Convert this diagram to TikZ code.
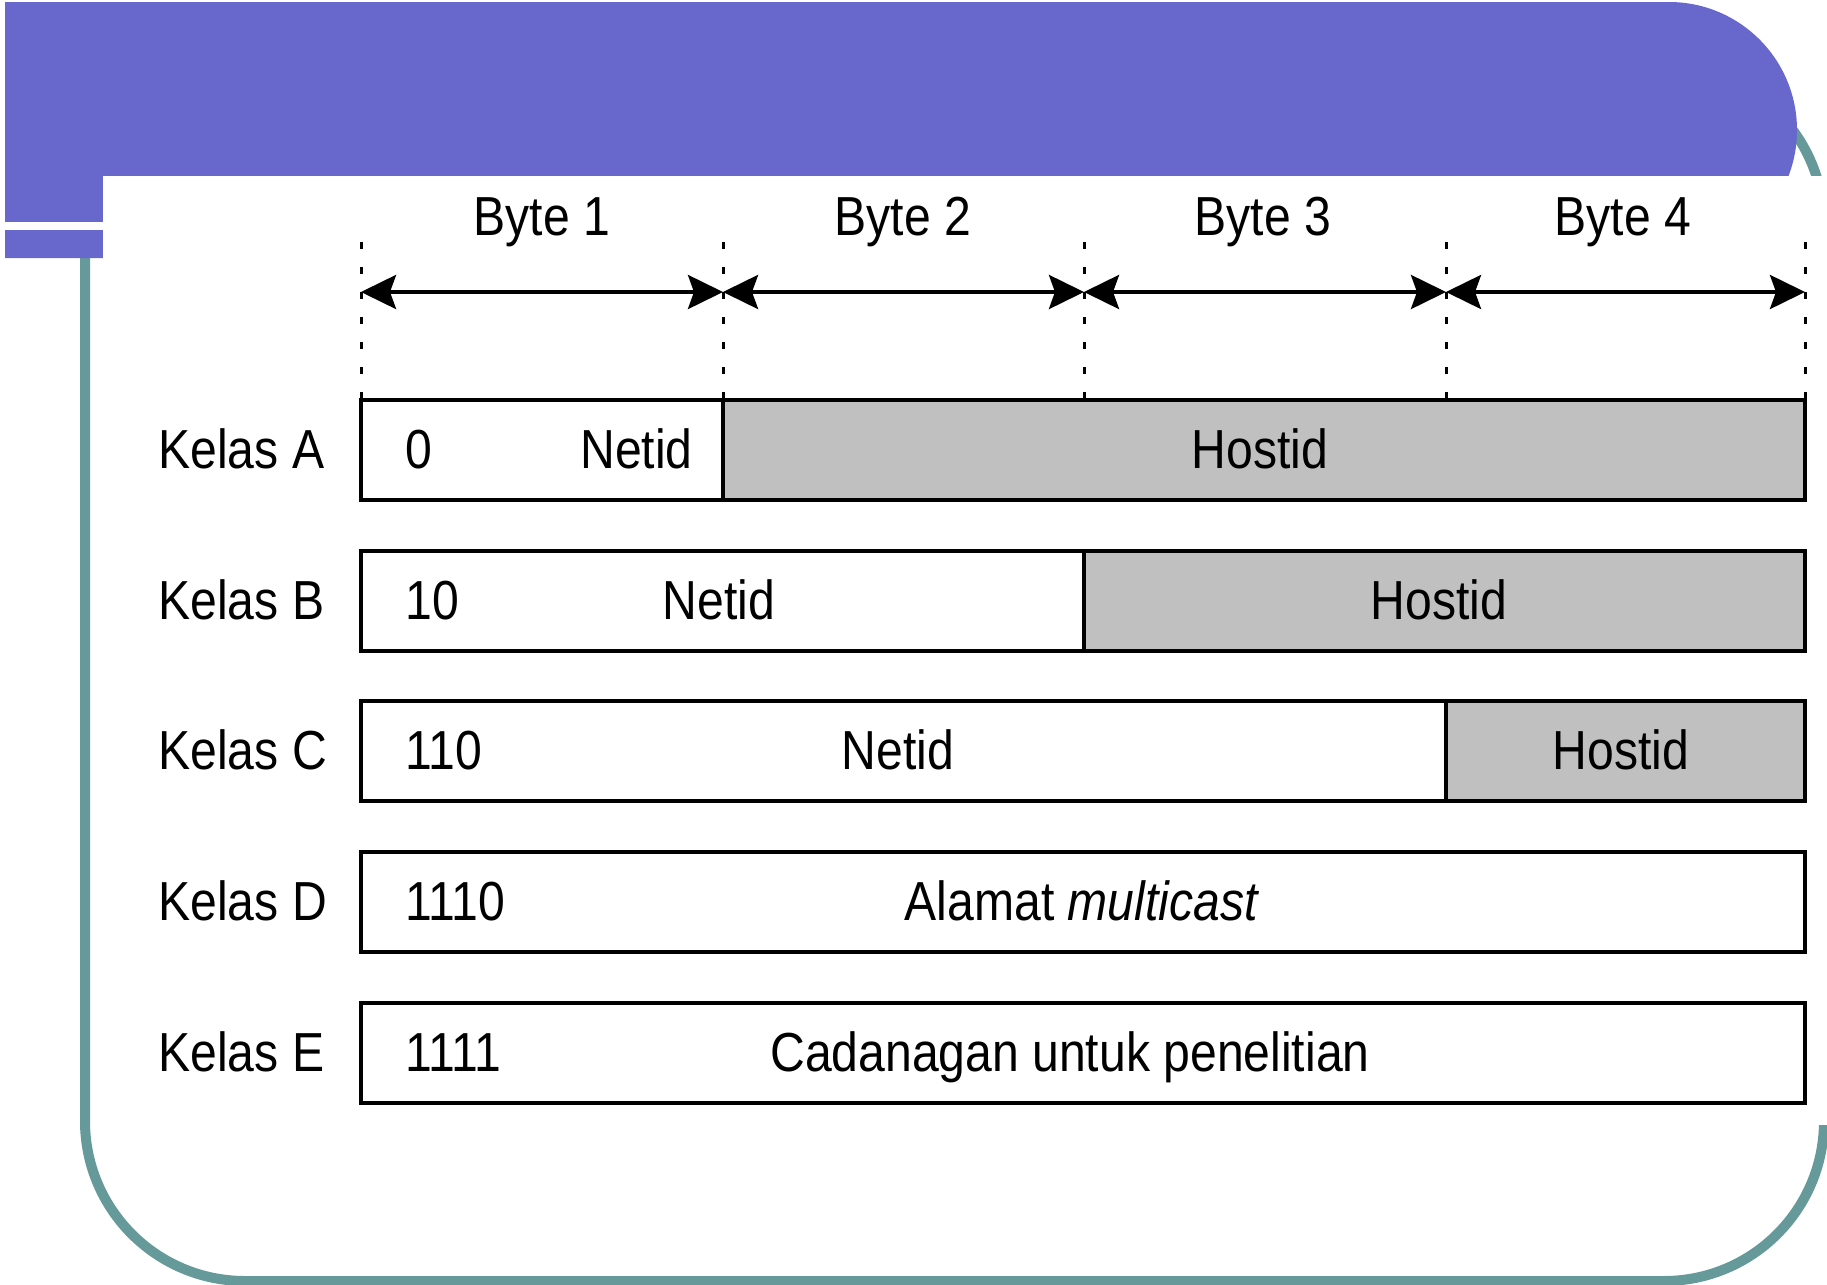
\documentclass[tikz,border=0pt]{standalone}
\usepackage{fontspec}
\setmainfont{Liberation Sans}[FakeStretch=0.875]
\usetikzlibrary{arrows.meta}
\definecolor{hdr}{RGB}{104,104,204}
\definecolor{framecol}{RGB}{102,153,153}
\definecolor{hostgray}{RGB}{192,192,192}
\begin{document}
\begin{tikzpicture}[x=0.5pt,y=-0.5pt,
  txt/.style={inner sep=0pt, font=\fontsize{27.5pt}{33pt}\selectfont},
  fieldbox/.style={draw=black, line width=2pt},
  tick/.style={line width=1.5pt, dash pattern=on 3.5pt off 9pt},
  span/.style={line width=2pt, {Stealth[length=17.5pt,width=17pt,inset=3pt]}-{Stealth[length=17.5pt,width=17pt,inset=3pt]}}]
\useasboundingbox (0,0) rectangle (1827,1285);
\fill[white] (0,0) rectangle (1827,1285);
% teal frame
\draw[framecol, line width=5pt, rounded corners=80pt] (85,65) rectangle (1824,1281);
% purple header
\fill[hdr] (5,2) -- (1669,2) arc[start angle=-90, end angle=90, radius=128] -- (5,258) -- cycle;
\fill[white] (103,176) rectangle (1827,1125);
\fill[white] (5,222) rectangle (103,230);

% byte ticks and spans
\foreach \i/\x in {0/361,1/723,2/1084,3/1446,4/1805}{
  \coordinate (t\i) at (\x,242);
  \coordinate (b\i) at (\x,400);
  \coordinate (a\i) at (\x,292);
  \draw[tick] (t\i) -- (b\i);
}
\draw[span] (a0) -- (a1);
\draw[span] (a1) -- (a2);
\draw[span] (a2) -- (a3);
\draw[span] (a3) -- (a4);
\node[txt, anchor=base] (byte1) at (542,235) {Byte 1};
\node[txt, anchor=base] (byte2) at (903,235) {Byte 2};
\node[txt, anchor=base] (byte3) at (1263,235) {Byte 3};
\node[txt, anchor=base] (byte4) at (1623,235) {Byte 4};

% Kelas A
\fill[white] (361,400) rectangle (723,500);
\fill[hostgray] (723,400) rectangle (1805,500);
\draw[fieldbox] (361,400) rectangle (1805,500);
\draw[fieldbox] (723,400) -- (723,500);
% Kelas B
\fill[white] (361,551) rectangle (1084,651);
\fill[hostgray] (1084,551) rectangle (1805,651);
\draw[fieldbox] (361,551) rectangle (1805,651);
\draw[fieldbox] (1084,551) -- (1084,651);
% Kelas C
\fill[white] (361,701) rectangle (1446,801);
\fill[hostgray] (1446,701) rectangle (1805,801);
\draw[fieldbox] (361,701) rectangle (1805,801);
\draw[fieldbox] (1446,701) -- (1446,801);
% Kelas D
\filldraw[fieldbox, fill=white] (361,852) rectangle (1805,952);
% Kelas E
\filldraw[fieldbox, fill=white] (361,1003) rectangle (1805,1103);

% labels
\node[txt, anchor=base west] (ka) at (158,468) {Kelas A};
\node[txt, anchor=base west] (kb) at (158,619) {Kelas B};
\node[txt, anchor=base west] (kc) at (158,769) {Kelas C};
\node[txt, anchor=base west] (kd) at (158,920) {Kelas D};
\node[txt, anchor=base west] (ke) at (158,1071) {Kelas E};

\node[txt, anchor=base west] (pa) at (405,468) {0};
\node[txt, anchor=base east] (na) at (693,468) {Netid};
\node[txt, anchor=base] (ha) at (1260,468) {Hostid};

\node[txt, anchor=base west] (pb) at (405,619) {10};
\node[txt, anchor=base] (nb) at (719,619) {Netid};
\node[txt, anchor=base] (hb) at (1439,619) {Hostid};

\node[txt, anchor=base west] (pc) at (405,769) {110};
\node[txt, anchor=base] (nc) at (898,769) {Netid};
\node[txt, anchor=base] (hc) at (1621,769) {Hostid};

\node[txt, anchor=base west] (pd) at (405,920) {1110};
\node[txt, anchor=base] (md) at (1082,920) {Alamat \textit{multicast}};

\node[txt, anchor=base west] (pe) at (405,1071) {1111};
\node[txt, anchor=base] (me) at (1070,1071) {Cadanagan untuk penelitian};
\end{tikzpicture}
\end{document}
